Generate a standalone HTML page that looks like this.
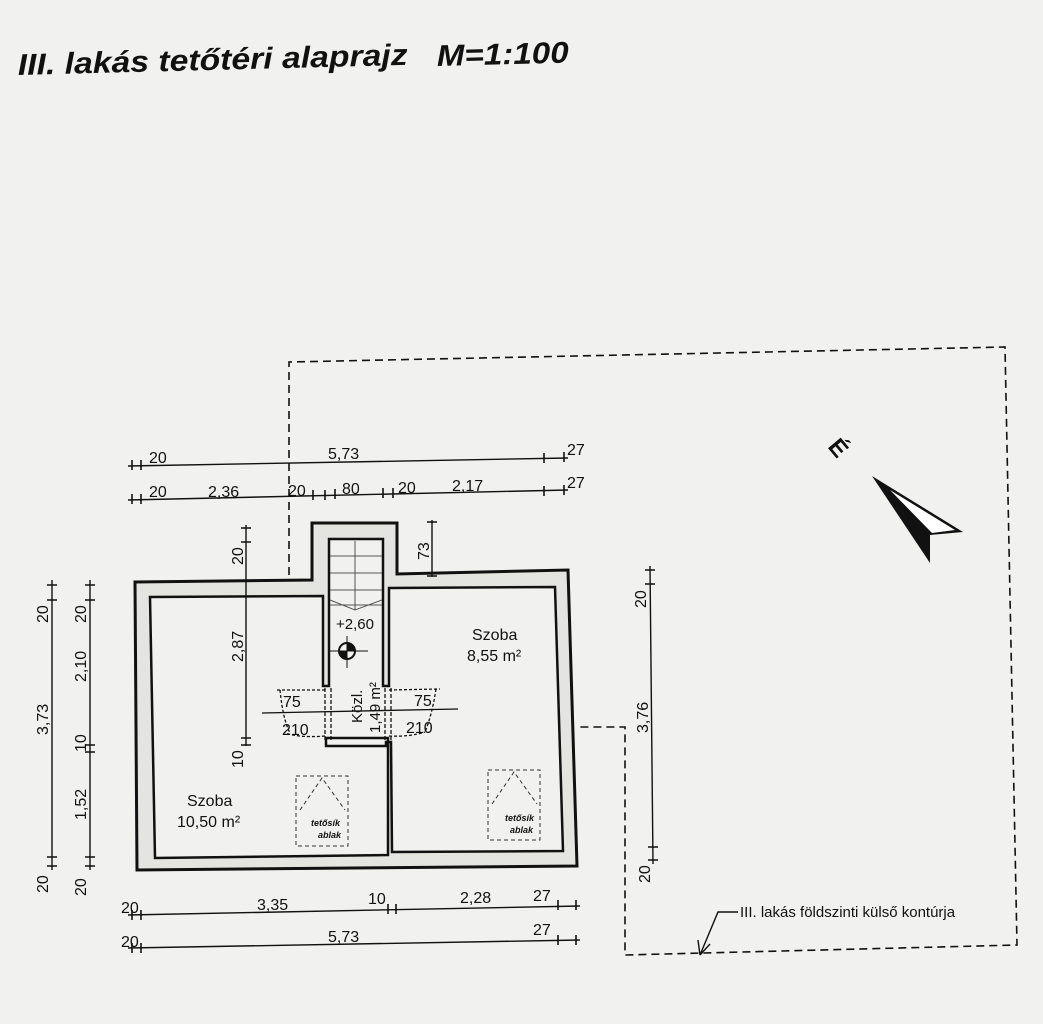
<!DOCTYPE html>
<html><head><meta charset="utf-8"><style>
html,body{margin:0;padding:0;background:#f1f1ef;}
svg{display:block}
text{font-family:"Liberation Sans",sans-serif;fill:#111}
</style></head><body>
<svg width="1043" height="1024" viewBox="0 0 1043 1024" xmlns="http://www.w3.org/2000/svg">
<rect width="1043" height="1024" fill="#f1f1ef"/>
<text x="18" y="75" font-size="30" font-weight="bold" font-style="italic" textLength="390" lengthAdjust="spacingAndGlyphs" transform="rotate(-1.5 18 75)">III. lakás tetőtéri alaprajz</text>
<text x="437" y="66" font-size="30" font-weight="bold" font-style="italic" textLength="132" lengthAdjust="spacingAndGlyphs" transform="rotate(-1.5 437 66)">M=1:100</text>

<!-- dashed outer contour -->
<g stroke="#111" stroke-width="1.6" fill="none" stroke-dasharray="8,5">
<path d="M289 575 L289 362 L1005 347 L1017 945 L625 955 L625 727 L578 727"/>
</g>

<!-- walls -->
<path d="M135 582 L312 580 L312 523 L397 523 L397 574 L568 570 L577 866 L137 870 Z" fill="#e4e4e1"/>
<path d="M150 597 L323 596 L323 686 L389 686 L389 588 L555 587 L563 851 L392 852 L391 742 L386 742 L386 746 L326 746 L326 738 L388 738 L388 855 L155 858 Z" fill="#f1f1ef"/>
<rect x="329" y="539" width="54" height="150" fill="#f1f1ef"/>
<g stroke="#111" stroke-width="3" fill="none">
<path d="M135 582 L312 580 L312 523 L397 523 L397 574 L568 570 L577 866 L137 870 Z"/>
<path d="M150 597 L323 596 L323 686 L329 686 L329 596 L329 539 L383 539 L383 686 L389 686 L389 588 L555 587 L563 851 L392 852 L391 742 L386 742 L386 746 L326 746 L326 738 L388 738 L388 855 L155 858 Z" stroke-width="2.5"/>
</g>
<!-- stair lines -->
<g stroke="#555" stroke-width="1" fill="none">
<line x1="355" y1="541" x2="355" y2="610"/>
<line x1="330" y1="556" x2="382" y2="556"/><line x1="330" y1="573" x2="382" y2="573"/>
<line x1="330" y1="590" x2="382" y2="590"/><line x1="330" y1="605" x2="382" y2="605"/>
<path d="M330 600 L355 610 L382 600"/>
</g>
<!-- level marker -->
<circle cx="347" cy="651" r="8" fill="none" stroke="#111" stroke-width="2"/>
<path d="M347 643 A8 8 0 0 1 355 651 L347 651 Z M347 659 A8 8 0 0 1 339 651 L347 651Z" fill="#111"/>
<line x1="330" y1="651" x2="368" y2="651" stroke="#111"/><line x1="347" y1="636" x2="347" y2="668" stroke="#111"/>
<text x="336" y="629" font-size="15">+2,60</text>
<!-- doors -->
<g stroke="#111" stroke-width="1.3" fill="none">
<line x1="262" y1="713" x2="458" y2="709"/>
<path d="M277 690 L325 690 M280 690 Q283 720 290 733 M325 736 Q300 738 285 733" stroke-dasharray="3,2"/>
<path d="M389 690 L440 689 M436 689 Q432 715 425 732 M389 736 Q410 737 425 732" stroke-dasharray="3,2"/>
<path d="M325 688 L325 742 M331 688 L331 742 M385 688 L385 742 M391 688 L391 742" stroke-dasharray="4,2"/>
</g>
<text x="283" y="707" font-size="16">75</text>
<text x="282" y="735" font-size="16">210</text>
<text x="414" y="706" font-size="16">75</text>
<text x="406" y="733" font-size="16">210</text>
<text font-size="15" transform="translate(362 723) rotate(-90)">Közl.</text>
<text font-size="15" transform="translate(380 733) rotate(-90)">1,49 m²</text>
<text x="472" y="640" font-size="16">Szoba</text>
<text x="467" y="661" font-size="16">8,55 m²</text>
<text x="187" y="806" font-size="16">Szoba</text>
<text x="177" y="827" font-size="16">10,50 m²</text>
<!-- roof windows -->
<g stroke="#333" stroke-width="1" fill="none" stroke-dasharray="4,3">
<rect x="296" y="776" width="52" height="70"/>
<rect x="488" y="770" width="52" height="70"/>
<path d="M300 810 L322 778 L345 810 M492 804 L514 772 L537 804"/>
</g>
<text x="311" y="826" font-size="9" font-style="italic" font-weight="bold">tetősík</text>
<text x="318" y="838" font-size="9" font-style="italic" font-weight="bold">ablak</text>
<text x="505" y="821" font-size="9" font-style="italic" font-weight="bold">tetősík</text>
<text x="510" y="833" font-size="9" font-style="italic" font-weight="bold">ablak</text>

<!-- dimension lines -->
<g stroke="#111" stroke-width="1.4" fill="none">
<line x1="128" y1="466" x2="568" y2="458"/>
<line x1="128" y1="500" x2="568" y2="490"/>
<line x1="128" y1="915" x2="580" y2="906"/>
<line x1="128" y1="948" x2="580" y2="940"/>
<line x1="52" y1="580" x2="52" y2="870"/>
<line x1="90" y1="580" x2="90" y2="870"/>
<line x1="246" y1="525" x2="246" y2="746"/>
<line x1="432" y1="520" x2="432" y2="577"/>
<line x1="650" y1="566" x2="653" y2="864"/>
<g stroke-width="1.6">
<path d="M132 460v10M141 460v10M132 494v10M141 494v10M544 453v10M564 452v10M544 486v10M564 485v10M313 490v10M325 490v10M335 489v10M383 488v10M393 488v10M132 910v10M141 910v10M388 904v10M396 904v10M558 900v10M576 900v10M132 943v10M141 943v10M558 935v10M576 935v10"/>
<path d="M47 585h10M47 600h10M85 585h10M85 600h10M85 745h10M85 752h10M47 857h10M47 866h10M85 857h10M85 866h10M241 528h10M241 542h10M241 738h10M241 745h10M427 522h10M427 576h10M645 570h10M645 584h10M648 847h10M648 860h10"/>
</g>
</g>
<g font-size="16">
<text x="149" y="463">20</text><text x="328" y="459">5,73</text><text x="567" y="455">27</text>
<text x="149" y="497">20</text><text x="208" y="497">2,36</text><text x="288" y="496">20</text><text x="342" y="494">80</text><text x="398" y="493">20</text><text x="452" y="491">2,17</text><text x="567" y="488">27</text>
<text x="121" y="913">20</text><text x="257" y="910">3,35</text><text x="368" y="904">10</text><text x="460" y="903">2,28</text><text x="533" y="901">27</text>
<text x="121" y="947">20</text><text x="328" y="942">5,73</text><text x="533" y="935">27</text>
<text transform="translate(48 623) rotate(-90)">20</text>
<text transform="translate(48 735) rotate(-90)">3,73</text>
<text transform="translate(48 893) rotate(-90)">20</text>
<text transform="translate(86 623) rotate(-90)">20</text>
<text transform="translate(86 682) rotate(-90)">2,10</text>
<text transform="translate(86 752) rotate(-90)">10</text>
<text transform="translate(86 820) rotate(-90)">1,52</text>
<text transform="translate(86 896) rotate(-90)">20</text>
<text transform="translate(243 565) rotate(-90)">20</text>
<text transform="translate(243 662) rotate(-90)">2,87</text>
<text transform="translate(243 768) rotate(-90)">10</text>
<text transform="translate(429 560) rotate(-90)">73</text>
<text transform="translate(646 608) rotate(-90)">20</text>
<text transform="translate(648 733) rotate(-90)">3,76</text>
<text transform="translate(650 883) rotate(-90)">20</text>
</g>
<!-- leader -->
<path d="M700 955 L718 912 L738 912 M700 955 L698 940 M700 955 L710 944" stroke="#111" stroke-width="1.4" fill="none"/>
<text x="740" y="917" font-size="15">III. lakás földszinti külső kontúrja</text>
<!-- north arrow -->
<path d="M872 476 L963 532 L930 535 L930 563 Z" fill="#111"/>
<path d="M890 490 L955 530 L932 533" fill="#fff" stroke="none"/>
<text font-size="24" font-weight="bold" transform="translate(827 447) rotate(50)">É</text>
</svg>
</body></html>
